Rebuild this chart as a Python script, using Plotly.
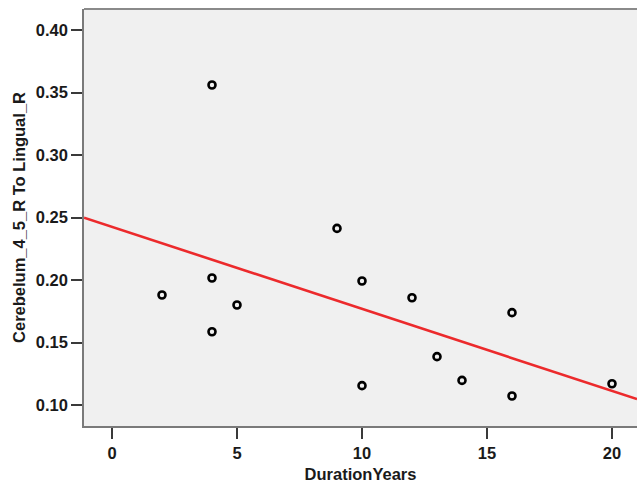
import numpy as np
import plotly.graph_objects as go

duration_years = [2, 4, 4, 4, 5, 9, 10, 10, 12, 13, 14, 16, 16, 20]
connectivity = [0.188, 0.356, 0.2016, 0.1586, 0.180, 0.2413, 0.1992, 0.1155,
                0.1858, 0.1387, 0.1197, 0.1739, 0.1072, 0.117]

# fitted regression line
fit_intercept = 0.2425
fit_slope = -0.00656

x_range = [-1.12, 21.0]
y_range = [0.0832, 0.4168]
x_ticks = [0, 5, 10, 15, 20]
y_ticks = [0.10, 0.15, 0.20, 0.25, 0.30, 0.35, 0.40]

fit_x = np.array(x_range)
fit_y = fit_intercept + fit_slope * fit_x

fig = go.Figure()
fig.add_trace(go.Scatter(
    x=fit_x, y=fit_y, mode="lines",
    line=dict(color="#ec2a2c", width=2.6), hoverinfo="skip", showlegend=False))
fig.add_trace(go.Scatter(
    x=duration_years, y=connectivity, mode="markers",
    marker=dict(symbol="circle-open", size=7, color="black", line=dict(width=2.6, color="black")),
    showlegend=False))

font_family = "Liberation Sans, Arial, sans-serif"
fig.update_layout(
    width=637, height=486, autosize=False,
    margin=dict(l=84, r=0, t=9, b=60),
    paper_bgcolor="white", plot_bgcolor="#f0f0f0",
    font=dict(family=font_family, color="#111111", size=17),
    xaxis=dict(range=x_range, tickvals=x_ticks, ticktext=[f"<b>{v}</b>" for v in x_ticks],
               showgrid=False, zeroline=False, showline=True, linecolor="#7a7a7a", linewidth=1.5,
               ticks="outside", ticklen=11, tickwidth=2, tickcolor="#3a3a3a",
               tickfont=dict(size=16.5, family=font_family, color="#1a1a1a"),
               title=dict(text="<b>DurationYears</b>", font=dict(size=16.5, family=font_family, color="#1a1a1a"), standoff=8),
               automargin=False),
    yaxis=dict(range=y_range, tickvals=y_ticks, ticktext=[f"<b>{v:.2f}</b>" for v in y_ticks],
               showgrid=False, zeroline=False, showline=True, linecolor="#7a7a7a", linewidth=1.5,
               ticks="outside", ticklen=11, tickwidth=2, tickcolor="#3a3a3a",
               tickfont=dict(size=16.5, family=font_family, color="#1a1a1a"),
               title=dict(text="<b>Cerebelum_4_5_R To Lingual_R</b>", font=dict(size=16.5, family=font_family, color="#1a1a1a"), standoff=6),
               automargin=False),
    shapes=[dict(type="line", xref="paper", yref="paper", x0=0, x1=1, y0=1, y1=1,
                 line=dict(color="#8a8a8a", width=2))],
)

fig.write_html("out.html", config={"displayModeBar": False},
               post_script="document.body.style.margin='0';")
